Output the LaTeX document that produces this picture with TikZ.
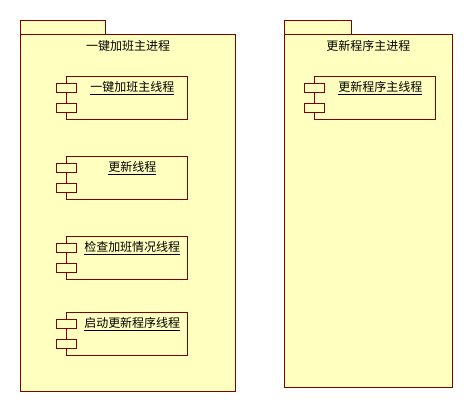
\documentclass[tikz,border=0pt]{standalone}
\usepackage{fontspec}
\newfontfamily\cjk{Noto Sans CJK SC}
\usepackage{tikz}
\usetikzlibrary{positioning,calc}
\definecolor{pkgfill}{RGB}{255,255,192}
\definecolor{pkgline}{RGB}{128,0,0}

\begin{document}
\begin{tikzpicture}
[x = 1pt, y = -1pt]
\tikzset{
	box/.style = {rectangle, draw = pkgline, fill = pkgfill, line width = 1pt, inner sep = 0, anchor = north west},
	package tab/.style = {box, minimum height = 14pt},
	package body/.style = {box},
	component/.style = {box, minimum width = 121pt, minimum height = 43pt},
	port/.style = {box, minimum width = 19.5pt, minimum height = 9pt},
	title/.style = {inner sep = 0, font = \cjk\fontsize{12}{14}\selectfont},
}

\useasboundingbox (0,0) rectangle (472,412);

% left package
\node(left tab)[package tab, minimum width = 85pt] at (20,20) {};
\node(left)[package body, minimum width = 215pt, minimum height = 357pt] at (20,34) {};
\node(left title)[title] at ($(left.north)+(0,12)$) {一键加班主进程};

\foreach \comp/\ypos/\lbl in {main/76/一键加班主线程, upd/156/更新线程, chk/236/检查加班情况线程, start/312/启动更新程序线程}{
	\node(\comp)[component] at (66,\ypos) {};
	\node(\comp-1)[port] at (56,\ypos+7) {};
	\node(\comp-2)[port] at (56,\ypos+27) {};
	\node(\comp-label)[title] at ($(\comp-1.east)!.5!(\comp-1.east -| \comp.east)$) {\underline{\lbl}};
}

% right package
\node(right tab)[package tab, minimum width = 66.5pt] at (284,20) {};
\node(right)[package body, minimum width = 167.5pt, minimum height = 353pt] at (284,34) {};
\node(right title)[title] at ($(right.north)+(0,12)$) {更新程序主进程};

\node(rmain)[component] at (314,76) {};
\node(rmain-1)[port] at (304,83) {};
\node(rmain-2)[port] at (304,103) {};
\node(rmain-label)[title] at ($(rmain-1.east)!.5!(rmain-1.east -| rmain.east)$) {\underline{更新程序主线程}};

\end{tikzpicture}
\end{document}
